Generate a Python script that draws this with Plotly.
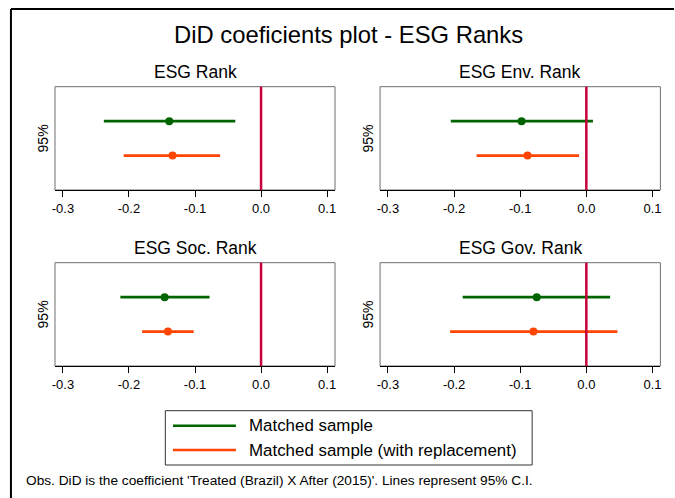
import plotly.graph_objects as go

W, H = 675, 498

# ---- data ----
panels = ["ESG Rank", "ESG Env. Rank", "ESG Soc. Rank", "ESG Gov. Rank"]
series_names = ["Matched sample", "Matched sample (with replacement)"]

matched_est = [-0.139, -0.098, -0.146, -0.075]
matched_lo = [-0.238, -0.205, -0.213, -0.187]
matched_hi = [-0.039, 0.010, -0.078, 0.036]

repl_est = [-0.134, -0.089, -0.141, -0.080]
repl_lo = [-0.208, -0.166, -0.180, -0.206]
repl_hi = [-0.062, -0.011, -0.102, 0.047]

tick_vals = [-0.3, -0.2, -0.1, 0.0, 0.1]
tick_text = ["-0.3", "-0.2", "-0.1", "0.0", "0.1"]

colors = ["#006400", "#FF4500"]
ref_color = "#C8003A"
FONT = "Liberation Sans, Arial, sans-serif"

# ---- layout geometry (pixels) ----
boxes = [  # x0, x1, ytop, ybottom
    (52.3, 334.0, 86.7, 190.0),
    (379.3, 661.3, 86.7, 190.0),
    (52.3, 334.0, 262.7, 366.0),
    (379.3, 661.3, 262.7, 366.0),
]

def px(x):
    return x / W

def py(y):
    return 1 - y / H

fig = go.Figure()
layout = dict(
    width=W, height=H, autosize=False,
    margin=dict(l=0, r=0, t=0, b=0),
    paper_bgcolor="white", plot_bgcolor="white",
    showlegend=False,
    font=dict(family=FONT, color="black"),
)
shapes = []
annotations = []

series = [
    (matched_est, matched_lo, matched_hi, 2),
    (repl_est, repl_lo, repl_hi, 1),
]

for i, (name, box) in enumerate(zip(panels, boxes)):
    x0, x1, yt, yb = box
    ax = "" if i == 0 else str(i + 1)
    xa, ya = "x" + ax, "y" + ax
    layout["xaxis" + ax] = dict(
        domain=[px(x0), px(x1)], anchor=ya, range=[-0.312, 0.112],
        tickvals=tick_vals, ticktext=tick_text, ticks="outside", ticklen=6,
        tickwidth=1, tickcolor="black", showgrid=False, zeroline=False,
        showline=True, linecolor="black", linewidth=1,
        tickfont=dict(size=13, family=FONT, color="black"),
    )
    layout["yaxis" + ax] = dict(
        domain=[py(yb), py(yt)], anchor=xa, range=[0, 3],
        showticklabels=False, ticks="", showgrid=False, zeroline=False,
        showline=False,
    )
    # panel frame
    shapes.append(dict(type="rect", xref=xa + " domain", yref=ya + " domain",
                       x0=0, x1=1, y0=0, y1=1, line=dict(color="#6e6e6e", width=1),
                       layer="below"))
    # reference line at zero
    shapes.append(dict(type="line", xref=xa, yref=ya + " domain", x0=0, x1=0,
                       y0=0, y1=1, line=dict(color=ref_color, width=2.5)))
    for (est, lo, hi, yv), col, sname in zip(series, colors, series_names):
        fig.add_trace(go.Scatter(x=[lo[i], hi[i]], y=[yv, yv], mode="lines",
                                 line=dict(color=col, width=2.7), xaxis=xa, yaxis=ya,
                                 name=sname, hoverinfo="skip"))
        fig.add_trace(go.Scatter(x=[est[i]], y=[yv], mode="markers",
                                 marker=dict(color=col, size=8), xaxis=xa, yaxis=ya,
                                 name=sname))
    # panel title
    annotations.append(dict(text=name, x=px((x0 + x1) / 2), y=py(yt - 2.5), xref="paper",
                            yref="paper", xanchor="center", yanchor="bottom",
                            showarrow=False, font=dict(size=17.5, family=FONT)))
    # y label
    annotations.append(dict(text="95%", x=px(x0 - 12), y=py((yt + yb) / 2), xref="paper",
                            yref="paper", xanchor="center", yanchor="middle",
                            textangle=-90, showarrow=False, font=dict(size=14, family=FONT)))

# main title
annotations.append(dict(text="DiD coeficients plot - ESG Ranks", x=px(348), y=py(35),
                        xref="paper", yref="paper", xanchor="center", yanchor="middle",
                        showarrow=False, font=dict(size=23.8, family=FONT)))

# outer frame (left and top edges)
shapes.append(dict(type="line", xref="paper", yref="paper", x0=px(8), x1=px(8),
                   y0=0, y1=py(9), line=dict(color="black", width=2)))
shapes.append(dict(type="line", xref="paper", yref="paper", x0=px(8), x1=1,
                   y0=py(9), y1=py(9), line=dict(color="black", width=2)))

# legend (manual)
shapes.append(dict(type="rect", xref="paper", yref="paper", x0=px(163.3), x1=px(532.3),
                   y0=py(465), y1=py(410.7), line=dict(color="#333333", width=1)))
for yy, col, sname in zip([425.7, 450.0], colors, series_names):
    shapes.append(dict(type="line", xref="paper", yref="paper", x0=px(171), x1=px(234.3),
                       y0=py(yy), y1=py(yy), line=dict(color=col, width=2.5)))
    annotations.append(dict(text=sname, x=px(245.7), y=py(yy), xref="paper", yref="paper",
                            xanchor="left", yanchor="middle", showarrow=False,
                            font=dict(size=16.9, family=FONT)))

# note
annotations.append(dict(
    text="Obs. DiD is the coefficient 'Treated (Brazil) X After (2015)'. Lines represent 95% C.I.",
    x=px(21), y=py(480), xref="paper", yref="paper", xanchor="left", yanchor="middle",
    showarrow=False, font=dict(size=13.7, family=FONT)))

layout["shapes"] = shapes
layout["annotations"] = annotations
fig.update_layout(**layout)
fig.write_html(
    "out.html",
    config={"displayModeBar": False},
    post_script="document.body.style.margin='0';document.body.style.padding='0';",
)
